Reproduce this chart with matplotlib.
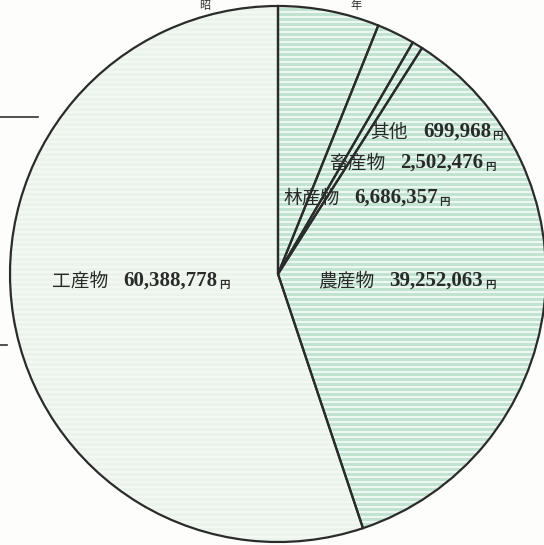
import matplotlib
matplotlib.use("Agg")
import matplotlib.pyplot as plt
import numpy as np

# data (order: clockwise from top)
categories = ["林産物", "畜産物", "其他", "農産物", "工産物"]
values = [6686357, 2502476, 699968, 39252063, 60388778]
value_labels = ["6,686,357", "2,502,476", "699,968", "39,252,063", "60,388,778"]

W, H = 544, 545
fig = plt.figure(figsize=(W / 100, H / 100), dpi=100)
fig.patch.set_facecolor("#fdfdfb")
ax = fig.add_axes([0, 0, 1, 1])

cx, cy, R = 278, H - 274, 268
green = "#c0e4d0"
pale = "#eaf4ea"
colors = [green, green, green, green, pale]

wedges, _ = ax.pie(values, startangle=90, counterclock=False, center=(cx, cy),
                   radius=R, colors=colors, frame=True,
                   wedgeprops=dict(edgecolor="none", linewidth=0))

# horizontal printed stripes clipped to each wedge
ys = np.arange(cy - R, cy + R, 5.0)
for w, c in zip(wedges, colors):
    stripe = "#ffffff" if c == green else "#f7fbf5"
    lc = ax.hlines(ys, cx - R, cx + R, colors=stripe, linewidth=1.4, alpha=0.75, zorder=2)
    lc.set_clip_path(w)

# outlines on top
ax.pie(values, startangle=90, counterclock=False, center=(cx, cy), radius=R,
       colors=["none"] * len(values), frame=True,
       wedgeprops=dict(edgecolor="#2b2b2b", linewidth=1.6, zorder=3))
ax.set_xlim(0, W)
ax.set_ylim(0, H)
ax.set_aspect("equal")
ax.axis("off")

# labels (left x, centre y in pixels from top)
label_pos = {
    "工産物": (52, 281),
    "農産物": (318, 281),
    "林産物": (283, 198),
    "畜産物": (329, 163),
    "其他": (370, 132),
}
ink = "#2a2a2a"
for cat, vl in zip(categories, value_labels):
    x, y = label_pos[cat]
    t1 = ax.text(x, H - y, cat, fontsize=13.5, family="Noto Sans CJK JP",
                 color=ink, va="center", ha="left", zorder=5)
    t2 = ax.annotate(vl, xy=(1, 0.5), xycoords=t1, xytext=(11, 0),
                     textcoords="offset points", fontsize=15,
                     family="Liberation Serif", weight="bold", color=ink,
                     va="center", ha="left", zorder=5)
    ax.annotate("円", xy=(1, 0), xycoords=t2, xytext=(1, 1),
                textcoords="offset points", fontsize=7.5,
                family="Noto Sans CJK JP", weight="bold", color=ink,
                va="bottom", ha="left", zorder=5)

# title fragments and stray rules from the scanned page
ax.text(205, H - 1, "昭", fontsize=8, family="Noto Sans CJK JP", color=ink,
        ha="center", va="top")
ax.text(356, H - 1, "年", fontsize=8, family="Noto Sans CJK JP", color=ink,
        ha="center", va="top")
ax.plot([0, 38], [H - 117, H - 117], color="#333333", linewidth=1.2)
ax.plot([0, 7], [H - 345, H - 345], color="#333333", linewidth=1.2)

fig.savefig("out.png", dpi=100, facecolor=fig.get_facecolor())
